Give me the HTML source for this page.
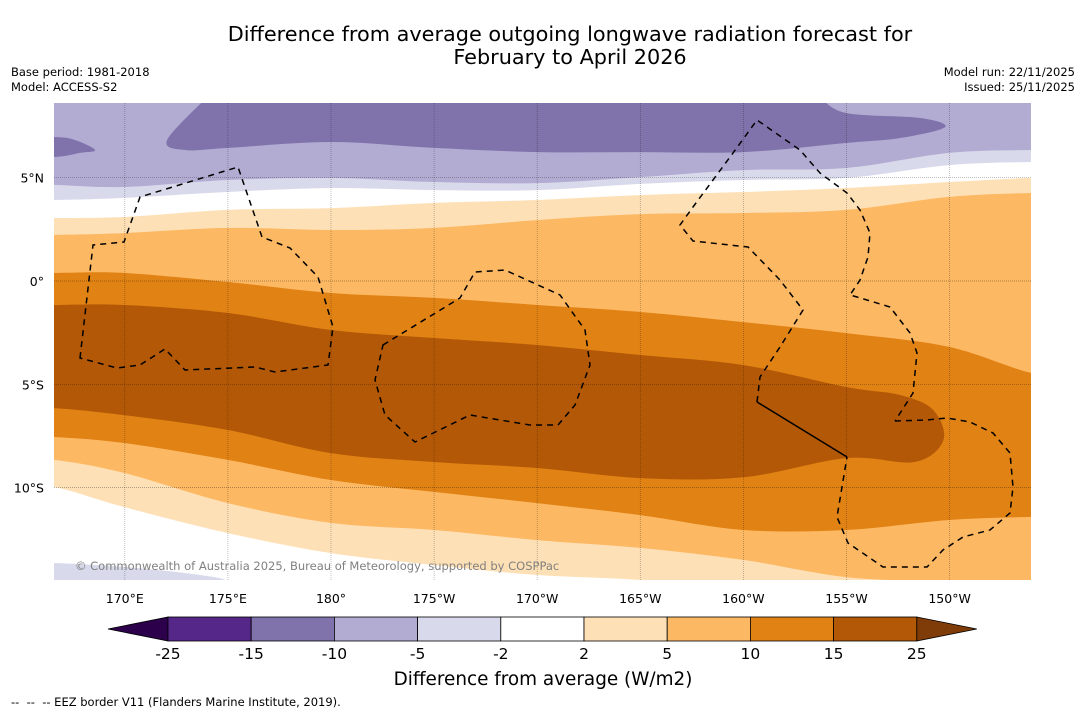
<!DOCTYPE html>
<html><head><meta charset="utf-8">
<style>
body{margin:0;background:#fff;width:1085px;height:713px;overflow:hidden;font-family:"DejaVu Sans","Liberation Sans",sans-serif;}
svg{position:absolute;left:0;top:0;font-family:"DejaVu Sans","Liberation Sans",sans-serif;}
</style></head>
<body>
<svg id="chart" width="1085" height="713" viewBox="0 0 1085 713">
<text x="570" y="41" font-size="20.8" text-anchor="middle" fill="#000">Difference from average outgoing longwave radiation forecast for</text>
<text x="570" y="64" font-size="20.8" text-anchor="middle" fill="#000">February to April 2026</text>
<text x="11" y="76" font-size="11.5">Base period: 1981-2018</text>
<text x="11" y="91" font-size="11.5">Model: ACCESS-S2</text>
<text x="1075" y="76" font-size="11.5" text-anchor="end">Model run: 22/11/2025</text>
<text x="1075" y="91" font-size="11.5" text-anchor="end">Issued: 25/11/2025</text>
<defs><clipPath id="mapclip"><rect x="54" y="103" width="977" height="477"/></clipPath></defs>
<g id="map" clip-path="url(#mapclip)">
<rect x="54" y="103" width="977" height="477" fill="#fff"/>
<g id="bands"></g>
<g id="grid"></g>
<g id="eez" fill="none" stroke="#000" stroke-width="1.5" stroke-dasharray="6,5"></g>
<text x="75" y="570" font-size="11.5" fill="#808080">© Commonwealth of Australia 2025, Bureau of Meteorology, supported by COSPPac</text>
</g>
<g id="axes"></g>
<g id="colorbar"></g>
<text x="543" y="685" font-size="18.4" text-anchor="middle">Difference from average (W/m2)</text>
<text x="11" y="706" font-size="11.5" style="white-space:pre">--  --  -- EEZ border V11 (Flanders Marine Institute, 2019).</text>
</svg>
<script>
const lons=[166.57,169.96,175,180,185,190,195,200,204.98,209.97,213.95];
const latM5=[4.65,4.55,4.89,4.99,4.79,4.74,5.03,5.37,5.47,6.20,6.34];
const latM2=[3.92,4.02,4.31,4.50,4.40,4.40,4.70,4.89,4.99,5.61,5.76];
const latP2=[3.05,3.10,3.44,3.53,3.78,3.92,4.16,4.31,4.50,4.79,4.99];
const latP5=[2.23,2.32,2.57,2.47,2.57,2.95,3.24,3.29,3.44,4.07,4.26];
const latP10=[0.39,0.39,-0.05,-0.58,-0.82,-1.16,-1.50,-1.99,-2.52,-3.19,-4.45];
const latP10bot=[-7.55,-7.84,-8.66,-9.63,-10.21,-10.75,-11.33,-12.05,-12.05,-11.57,-11.42];
const latP5bot=[-8.66,-9.29,-10.75,-11.71,-12.05,-12.54,-12.92,-13.5,-14.33,-14.57,-14.71];
const latP2bot=[-9.97,-10.94,-12.2,-13.17,-13.75,-14.23,-14.47,-14.96,-15.5,-15.5,-15.5];
const lons15top=[166.57,169.96,175,180,185,190,195,200,204.98,207.6,209.2];
const lat15top=[-1.16,-1.16,-1.55,-2.37,-2.76,-3.10,-3.58,-4.07,-5.13,-5.52,-6.24];
const tip15=[209.7,-7.70];
const lons15bot=[208.3,204.98,200,195,190,185,180,175,169.96,166.57];
const lat15bot=[-8.76,-8.57,-9.5,-9.54,-9.05,-8.76,-8.33,-7.21,-6.49,-6.15];
const darkPurple=[[173.99,8.9],[172.05,6.82],[172.92,6.34],[175,6.44],[180,6.73],[185,6.44],[190,6.24],[195,6.24],[200,6.24],[204.98,6.68],[207.6,6.92],[209.78,7.45],[208.56,7.89],[204.98,8.13],[203.71,8.9]];
const darkPurpleLeft=[[164,6.97],[166.57,6.97],[167.6,6.82],[168.56,6.34],[167.83,6.20],[166.57,6.0],[164,6.0]];
const lavBottom=[[164,-13.65],[166.57,-13.65],[169.96,-13.84],[173.65,-14.23],[175.1,-14.6],[175.1,-15.5],[164,-15.5]];
const lonTicks=[170,175,180,185,190,195,200,205,210];
const lonTickLabels=["170°E","175°E","180°","175°W","170°W","165°W","160°W","155°W","150°W"];
const latTicks=[5,0,-5,-10];
const latTickLabels=["5°N","0°","5°S","10°S"];
const cbEdges=[-25,-15,-10,-5,-2,2,5,10,15,25];
const cbColors=["#542788","#8073ac","#b2abd2","#d8daeb","#ffffff","#fee0b6","#fdb863","#e08214","#b35806"];

const X=lon=>331+(lon-180)*20.62;
const Y=lat=>281-lat*20.66;
const NS='http://www.w3.org/2000/svg';
function mk(tag,attrs,parent){const e=document.createElementNS(NS,tag);for(const k in attrs)e.setAttribute(k,attrs[k]);parent.appendChild(e);return e;}
function segs(pts){
  let s='';
  for(let i=0;i<pts.length-1;i++){
    const p0=pts[Math.max(i-1,0)],p1=pts[i],p2=pts[i+1],p3=pts[Math.min(i+2,pts.length-1)];
    const c1=[p1[0]+(p2[0]-p0[0])/6,p1[1]+(p2[1]-p0[1])/6];
    const c2=[p2[0]-(p3[0]-p1[0])/6,p2[1]-(p3[1]-p1[1])/6];
    s+=` C${c1[0].toFixed(1)},${c1[1].toFixed(1)} ${c2[0].toFixed(1)},${c2[1].toFixed(1)} ${p2[0].toFixed(1)},${p2[1].toFixed(1)}`;
  }
  return s;
}
function line(lo,la){const p=lo.map((l,i)=>[X(l),Y(la[i])]);p.unshift([X(lo[0])-40,Y(la[0])]);p.push([X(lo[lo.length-1])+40,Y(la[la.length-1])]);return p;}
function band(top,bot){
  const b=bot.slice().reverse();
  return `M${top[0][0]},${top[0][1]}`+segs(top)+` L${b[0][0]},${b[0][1]}`+segs(b)+' Z';
}
const flatTop=lons.map(()=>9.5);
const bands=document.getElementById('bands');
let el;
el=mk('path',{d:band(line(lons,flatTop),line(lons,latM2)),fill:'#d8daeb'},bands);


el=mk('path',{d:band(line(lons,flatTop),line(lons,latM5)),fill:'#b2abd2'},bands);


function closedPoly(arr){const p=arr.map(a=>[X(a[0]),Y(a[1])]);return `M${p[0][0]},${p[0][1]}`+segs(p)+' Z';}
el=mk('path',{d:closedPoly(darkPurple),fill:'#8073ac'},bands);


el=mk('path',{d:closedPoly(darkPurpleLeft),fill:'#8073ac'},bands);


el=mk('path',{d:band(line(lons,latP2),line(lons,latP2bot)),fill:'#fee0b6'},bands);


el=mk('path',{d:band(line(lons,latP5),line(lons,latP5bot)),fill:'#fdb863'},bands);


el=mk('path',{d:band(line(lons,latP10),line(lons,latP10bot)),fill:'#e08214'},bands);


(function(){
  const t=lons15top.map((l,i)=>[X(l),Y(lat15top[i])]);t.unshift([X(lons15top[0])-40,Y(lat15top[0])]);
  t.push([X(tip15[0]),Y(tip15[1])]);
  lons15bot.forEach((l,i)=>t.push([X(l),Y(lat15bot[i])]));
  t.push([X(166.57)-40,Y(lat15bot[lat15bot.length-1])]);
  el=mk('path',{d:`M${t[0][0]},${t[0][1]}`+segs(t)+' Z',fill:'#b35806'},bands);
  
  
})();
el=mk('path',{d:closedPoly(lavBottom),fill:'#d8daeb'},bands);



const grid=document.getElementById('grid'), axes=document.getElementById('axes');
lonTicks.forEach((l,i)=>{
  el=mk('line',{x1:X(l),x2:X(l),y1:103,y2:580,stroke:'#000','stroke-opacity':0.35,'stroke-width':0.7,'stroke-dasharray':'1,1'},grid);
  
  
  el=mk('text',{x:X(l),y:603,'font-size':12.5,'text-anchor':'middle'},axes);el.textContent=lonTickLabels[i];
  
  
});
latTicks.forEach((l,i)=>{
  el=mk('line',{x1:54,x2:1031,y1:Y(l),y2:Y(l),stroke:'#000','stroke-opacity':0.4,'stroke-width':0.7,'stroke-dasharray':'1,1'},grid);
  
  
  el=mk('text',{x:44,y:Y(l)+5,'font-size':12.5,'text-anchor':'end'},axes);el.textContent=latTickLabels[i];
  
  
});

const eez=document.getElementById('eez');
const eezPaths=[
 "M80,358 L93,245 L124,242 L140,197 L238,167 L262,237 L290,248 L318,277 L333,327 L328,365 L275,372 L255,367 L185,370 L165,349 L140,365 L117,368 Z",
 "M383,345 L460,298 L475,272 L505,270 L560,295 L585,330 L590,365 L575,405 L558,425 L530,425 L470,415 L415,442 L385,415 L375,380 Z",
 "M757,402 L760,377 L780,347 L803,310 L780,280 L748,247 L693,241 L680,225 L693,207 L713,180 L733,153 L757,120 L800,150 L820,173 L847,193 L860,210 L870,233 L868,257 L860,280 L850,295 L857,297 L890,307 L910,333 L917,353 L913,393 L895,421",
 "M895,421 L927,420 L947,418 L970,422 L993,433 L1010,453 L1013,487 L1010,513 L990,530 L963,537 L943,550 L927,567 L883,567 L848,543 L837,517 L847,457"
];
eezPaths.forEach(d=>{el=mk('path',{d:d},eez);
  
  });
el=mk('path',{d:"M757,402 L847,457",'stroke-dasharray':'none'},eez);



const cb=document.getElementById('colorbar');
const cbX0=168,cbW=83.2,cbY=617,cbH=24;
el=mk('polygon',{points:`108,${cbY+cbH/2} ${cbX0},${cbY} ${cbX0},${cbY+cbH}`,fill:'#2d004b',stroke:'#000','stroke-width':0.8},cb);


cbColors.forEach((c,i)=>{
  el=mk('rect',{x:cbX0+i*cbW,y:cbY,width:cbW,height:cbH,fill:c,stroke:'#000','stroke-width':0.8},cb);
  
  
});
const cbEnd=cbX0+cbColors.length*cbW;
el=mk('polygon',{points:`${cbEnd},${cbY} ${cbEnd+60},${cbY+cbH/2} ${cbEnd},${cbY+cbH}`,fill:'#7f3b08',stroke:'#000','stroke-width':0.8},cb);


cbEdges.forEach((v,i)=>{
  el=mk('text',{x:cbX0+i*cbW,y:659,'font-size':15.5,'text-anchor':'middle'},cb);el.textContent=v;
  
  
});
</script>
</body></html>
